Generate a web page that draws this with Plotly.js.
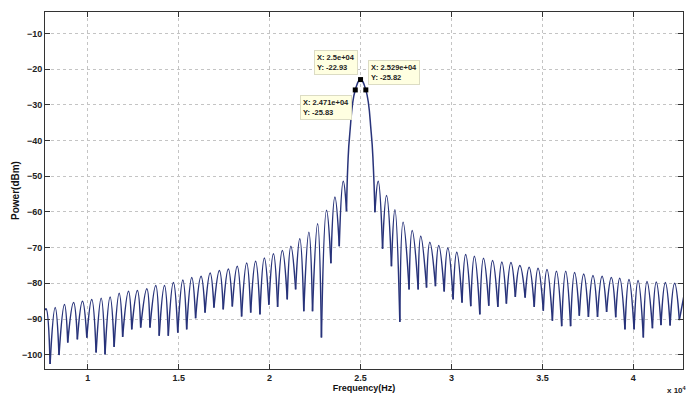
<!DOCTYPE html>
<html><head><meta charset="utf-8">
<script src="https://cdn.plot.ly/plotly-3.0.1.min.js"></script>
<style>html,body{margin:0;padding:0;background:#fff}#chart{width:692px;height:398px}</style>
</head><body><div id="chart"></div>
<script>
// Frequency in units of 1e4 Hz, power in dBm
// Nulls (lobe boundaries), left side then right side
const dipFreq = [0.765, 0.793, 0.842, 0.890, 0.943, 0.995, 1.046, 1.095, 1.145, 1.192, 1.242, 1.291, 1.342, 1.393, 1.443, 1.495, 1.544, 1.593, 1.645, 1.694, 1.745, 1.795, 1.846, 1.896, 1.947, 1.996, 2.044, 2.097, 2.143, 2.188, 2.236, 2.285, 2.337, 2.383, 2.423,
  2.579, 2.621, 2.670, 2.716, 2.767, 2.817, 2.863, 2.912, 2.960, 3.009, 3.058, 3.106, 3.156, 3.205, 3.255, 3.302, 3.351, 3.405, 3.455, 3.505, 3.555, 3.606, 3.655, 3.703, 3.753, 3.803, 3.853, 3.903, 3.954, 4.004, 4.055, 4.105, 4.152, 4.202, 4.253];
const dipPow = [-87.5, -102.6, -100.1, -96.6, -95.7, -95.2, -99.4, -99.9, -97.8, -95.0, -92.9, -92.4, -92.4, -94.7, -94.7, -93.8, -92.9, -89.8, -88.2, -86.8, -87.3, -86.5, -89.3, -88.2, -88.7, -86.0, -86.6, -84.5, -81.7, -87.8, -87.8, -95.2, -74.4, -69.6, -59.8,
  -60.1, -70.3, -75.2, -90.8, -81.7, -81.7, -81.2, -80.8, -82.3, -84.5, -85.4, -86.4, -88.7, -86.3, -86.6, -85.7, -83.8, -84.0, -86.6, -87.7, -90.5, -92.0, -92.0, -89.1, -89.4, -89.4, -88.0, -89.5, -92.9, -92.9, -95.2, -92.6, -91.7, -91.8, -90.3];
// Side-lobe tops
const peakFreq = [0.771, 0.821, 0.872, 0.922, 0.971, 1.022, 1.074, 1.123, 1.173, 1.224, 1.273, 1.325, 1.374, 1.422, 1.471, 1.523, 1.572, 1.623, 1.673, 1.724, 1.773, 1.822, 1.874, 1.923, 1.971, 2.021, 2.070, 2.117, 2.166, 2.216, 2.264, 2.313, 2.359, 2.405,
  2.597, 2.643, 2.689, 2.734, 2.784, 2.831, 2.881, 2.930, 2.980, 3.029, 3.078, 3.126, 3.176, 3.226, 3.277, 3.327, 3.376, 3.427, 3.476, 3.525, 3.577, 3.628, 3.677, 3.727, 3.778, 3.828, 3.879, 3.925, 3.976, 4.026, 4.075, 4.126, 4.176, 4.227];
const peakPow = [-87.1, -86.8, -85.9, -85.4, -85.0, -84.5, -84.2, -83.8, -82.8, -82.2, -82.0, -81.5, -80.6, -80.6, -79.8, -79.1, -78.4, -78.0, -77.1, -76.4, -76.0, -75.2, -74.3, -73.8, -72.9, -71.7, -70.8, -69.6, -67.5, -65.7, -63.3, -59.5, -55.8, -51.4,
  -51.4, -55.4, -59.4, -62.9, -65.2, -66.8, -68.5, -69.4, -70.1, -71.3, -71.9, -72.4, -73.0, -73.6, -74.0, -74.2, -75.0, -75.5, -75.8, -76.1, -76.6, -76.6, -77.0, -77.4, -77.8, -78.0, -78.4, -78.6, -78.9, -79.2, -79.5, -79.6, -79.8, -80.0];
// Main lobe inner points
const mainFreq = [2.430, 2.441, 2.471, 2.5, 2.529, 2.559, 2.570];
const mainPow = [-47.0, -38.0, -25.83, -22.93, -25.82, -38.0, -47.0];
// Tail at right edge
const tailFreq = [4.253, 4.28];
const tailPow = [-90.3, -83.0];
// Data tips
const tipFreq = [2.471, 2.5, 2.529];
const tipPow = [-25.83, -22.93, -25.82];
const tipLabel = ['2.471e+04', '2.5e+04', '2.529e+04'];
// Axis ticks
const xTicks = [1, 1.5, 2, 2.5, 3, 3.5, 4];
const xTickText = ['1', '1.5', '2', '2.5', '3', '3.5', '4'];
const yTicks = [-100, -90, -80, -70, -60, -50, -40, -30, -20, -10];

const MAIN = 34;
const xs = [], ys = [];
for (let k = 0; k < dipFreq.length - 1; k++) {
  xs.push(dipFreq[k]); ys.push(dipPow[k]);
  if (k === MAIN) {
    for (let i = 0; i < mainFreq.length; i++) { xs.push(mainFreq[i]); ys.push(mainPow[i]); }
  } else {
    const p = k < MAIN ? k : k - 1;
    xs.push(peakFreq[p]); ys.push(peakPow[p]);
  }
  xs.push(dipFreq[k + 1]); ys.push(dipPow[k + 1]);
  xs.push(null); ys.push(null);
}
for (let i = 0; i < tailFreq.length; i++) { xs.push(tailFreq[i]); ys.push(tailPow[i]); }

const FONT = 'Liberation Sans, Arial, Helvetica, sans-serif';
const traces = [
  { x: xs, y: ys, type: 'scatter', mode: 'lines', connectgaps: false,
    line: { color: '#28337a', width: 1.5, shape: 'spline', smoothing: 1.3, simplify: false }, hoverinfo: 'skip' },
  { x: tipFreq, y: tipPow, type: 'scatter', mode: 'markers',
    marker: { symbol: 'square', size: 5, color: '#000' }, hoverinfo: 'skip' }
];

const tipPos = [
  { xanchor: 'right', yanchor: 'top', xshift: -3, yshift: -5 },
  { xanchor: 'right', yanchor: 'bottom', xshift: -3, yshift: 5 },
  { xanchor: 'left', yanchor: 'bottom', xshift: 2, yshift: 5 }
];
const annotations = tipFreq.map((f, i) => Object.assign({
  x: f, y: tipPow[i], xref: 'x', yref: 'y', showarrow: false, align: 'left',
  text: 'X: ' + tipLabel[i] + '<br>Y: ' + tipPow[i].toFixed(2),
  font: { family: FONT, size: 7.5, color: '#222' },
  bgcolor: '#ffffe1', bordercolor: '#dcdcc4', borderwidth: 1, borderpad: 2
}, tipPos[i]));
annotations.push({
  xref: 'paper', yref: 'paper', x: 1, y: 0, xanchor: 'center', yanchor: 'top', yshift: -14, xshift: -6,
  showarrow: false, text: 'x 10<sup>4</sup>', font: { family: FONT, size: 8, color: '#222', weight: 'bold' }
});

const layout = {
  width: 692, height: 398,
  margin: { l: 45, r: 9, t: 12, b: 29 },
  paper_bgcolor: '#fff', plot_bgcolor: '#fff',
  showlegend: false,
  font: { family: FONT, size: 9, color: '#222', weight: 'bold' },
  xaxis: {
    range: [0.765, 4.273], tickvals: xTicks, ticktext: xTickText,
    showgrid: true, gridcolor: '#c4c4c4', griddash: 'dot', gridwidth: 1,
    zeroline: false, showline: true, linecolor: '#333', linewidth: 1, mirror: 'ticks',
    ticks: 'inside', ticklen: 5, tickcolor: '#333',
    tickfont: { family: FONT, size: 9, color: '#222', weight: 'bold' },
    title: { text: 'Frequency(Hz)', standoff: 2, font: { family: FONT, size: 9, color: '#111', weight: 'bold' } }
  },
  yaxis: {
    range: [-104, -4], tickvals: yTicks,
    showgrid: true, gridcolor: '#c4c4c4', griddash: 'dot', gridwidth: 1,
    zeroline: false, showline: true, linecolor: '#333', linewidth: 1, mirror: 'ticks',
    ticks: 'inside', ticklen: 5, tickcolor: '#333',
    tickfont: { family: FONT, size: 9, color: '#222', weight: 'bold' },
    title: { text: 'Power(dBm)', standoff: 0, font: { family: FONT, size: 10, color: '#111', weight: 'bold' } }
  },
  annotations: annotations
};

Plotly.newPlot('chart', traces, layout, { staticPlot: true, displayModeBar: false });
</script>
</body></html>
